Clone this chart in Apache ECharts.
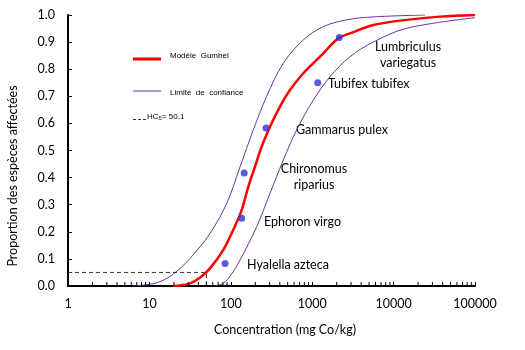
<!DOCTYPE html>
<html><head><meta charset="utf-8">
<script src="https://cdn.jsdelivr.net/npm/echarts@6/dist/echarts.min.js"></script>
<style>html,body{margin:0;padding:0;background:#fff}#c{width:525px;height:350px}</style>
</head><body><div id="c"></div>
<script>
// Species toxicity data (mg Co/kg) and plotting positions
const species = ["Hyalella azteca","Ephoron virgo","Chironomus riparius","Gammarus pulex","Tubifex tubifex","Lumbriculus variegatus"];
const speciesConc = [85, 136, 146, 271, 1169, 2153];
const speciesProp = [0.083, 0.25, 0.417, 0.583, 0.75, 0.917];

// Gumbel model curve
const gumbelX = [19.5, 25.1, 31.6, 41.7, 55.5, 80.9, 107, 136, 164, 198, 239, 303, 402, 533, 778, 1247, 2094, 2911, 5623, 14454, 37154, 100000];
const gumbelY = [0, 0.003, 0.01, 0.03, 0.065, 0.133, 0.207, 0.28, 0.366, 0.44, 0.514, 0.588, 0.662, 0.723, 0.785, 0.846, 0.914, 0.932, 0.963, 0.982, 0.994, 1.0];

// Upper confidence limit (left purple curve)
const upperX = [6.3, 10, 13.5, 19.7, 31.6, 55.5, 89.1, 130, 189, 275, 442, 778, 1368, 2630, 5623, 24300];
const upperY = [0, 0.006, 0.016, 0.044, 0.102, 0.194, 0.305, 0.44, 0.576, 0.699, 0.822, 0.908, 0.957, 0.982, 0.993, 1.0];

// Lower confidence limit (right purple curve)
const lowerX = [63, 80.9, 100, 130, 208, 303, 442, 644, 1033, 1656, 2911, 5623, 14454, 100000];
const lowerY = [0, 0.01, 0.04, 0.096, 0.219, 0.342, 0.465, 0.576, 0.686, 0.772, 0.846, 0.90, 0.951, 0.99];

// HC5
const hc5 = 50.1;
const hc5Prop = 0.05;

// Minor ticks of the log axis
const minorTicks = [];
[1, 10, 100, 1000, 10000].forEach(d => { for (let k = 2; k <= 9; k++) minorTicks.push(d * k); });

const zip = (a, b) => a.map((v, i) => [v, b[i]]);

const chart = echarts.init(document.getElementById('c'), null, {renderer: 'canvas'});
const FONT = 'Lato';
const labelStyle = {fontFamily: FONT, fontSize: 12.5, fill: '#000'};

const speciesLayout = [
  {x: 247, y: 265, align: 'left'},
  {x: 264, y: 222, align: 'left'},
  {x: 314, y: 177, align: 'center', lines: ["Chironomus", "riparius"]},
  {x: 296, y: 130, align: 'left'},
  {x: 328, y: 84, align: 'left'},
  {x: 408, y: 55, align: 'center', lines: ["Lumbriculus", "variegatus"]}
];

const graphics = [];
species.forEach((name, i) => {
  const L = speciesLayout[i];
  graphics.push({type: 'text', x: L.x, y: L.y, style: Object.assign({}, labelStyle, {
    text: L.lines ? L.lines.join('\n') : name, align: L.align, verticalAlign: 'middle', lineHeight: 16
  })});
});
// Axis titles
graphics.push({type: 'text', x: 285, y: 330, style: {text: 'Concentration (mg Co/kg)', fontFamily: FONT, fontSize: 12.5, fill: '#000', align: 'center', verticalAlign: 'middle'}});
graphics.push({type: 'text', x: 13, y: 176, rotation: Math.PI / 2, style: {text: 'Proportion des espèces affectées', fontFamily: FONT, fontSize: 12.5, fill: '#000', align: 'center', verticalAlign: 'middle'}});
// Legend
graphics.push({type: 'line', shape: {x1: 133, y1: 59, x2: 161, y2: 59}, style: {stroke: '#ff0000', lineWidth: 3}});
graphics.push({type: 'text', x: 170, y: 56, style: {text: 'Modèle  Gumbel', fontFamily: 'Liberation Sans', fontSize: 8, fill: '#000', verticalAlign: 'middle'}});
graphics.push({type: 'line', shape: {x1: 133, y1: 91, x2: 161, y2: 91}, style: {stroke: '#7030a0', lineWidth: 1}});
graphics.push({type: 'text', x: 170, y: 93, style: {text: 'Limite  de  confiance', fontFamily: 'Liberation Sans', fontSize: 8, fill: '#000', verticalAlign: 'middle'}});
graphics.push({type: 'line', shape: {x1: 133, y1: 119.5, x2: 147, y2: 119.5}, style: {stroke: '#333', lineWidth: 1, lineDash: [3, 2]}});
graphics.push({type: 'text', x: 147, y: 117, style: {
  text: '{a|HC}{b|5}{a|= ' + hc5 + '}', verticalAlign: 'middle',
  rich: {a: {fontFamily: 'Liberation Sans', fontSize: 8, fill: '#000'}, b: {fontFamily: 'Liberation Sans', fontSize: 6, fill: '#000', padding: [3, 0, 0, 0]}}
}});

chart.setOption({
  animation: false,
  backgroundColor: '#fff',
  grid: {left: 68, right: 50, top: 15, bottom: 64, containLabel: false},
  xAxis: {
    type: 'log', logBase: 10, min: 1, max: 100000,
    axisLine: {onZero: false, lineStyle: {color: '#000', width: 2}},
    axisTick: {inside: true, length: 4, lineStyle: {color: '#000', width: 1}},
    axisLabel: {margin: 11, fontFamily: FONT, fontSize: 12.5, color: '#000',
      formatter: v => String(Math.round(v))},
    splitLine: {show: false}
  },
  yAxis: {
    type: 'value', min: 0, max: 1, interval: 0.1,
    axisLine: {show: true, lineStyle: {color: '#000', width: 2}},
    axisTick: {show: true, inside: true, length: 4, lineStyle: {color: '#000', width: 1}},
    axisLabel: {margin: 13, fontFamily: FONT, fontSize: 12.5, color: '#000', formatter: v => v.toFixed(1)},
    splitLine: {show: false}
  },
  series: [
    {type: 'line', name: 'Limite de confiance', data: zip(upperX, upperY), smooth: 0.35, symbol: 'none',
      lineStyle: {color: '#7030a0', width: 1}, z: 2},
    {type: 'line', name: 'Limite de confiance', data: zip(lowerX, lowerY), smooth: 0.35, symbol: 'none',
      lineStyle: {color: '#7030a0', width: 1}, z: 2},
    {type: 'line', name: 'Modèle Gumbel', data: zip(gumbelX, gumbelY), smooth: 0.35, symbol: 'none',
      lineStyle: {color: '#ff0000', width: 2.5}, z: 3},
    {type: 'line', name: 'HC5', data: [[1, hc5Prop], [hc5, hc5Prop], [hc5, 0]], symbol: 'none',
      lineStyle: {color: '#333', width: 1, type: [4, 3]}, z: 2},
    {type: 'scatter', name: 'Espèces', data: zip(speciesConc, speciesProp), symbol: 'circle', symbolSize: 7,
      itemStyle: {color: '#3333cc'}, z: 4},
    {type: 'custom', name: 'minor', data: minorTicks.map(v => [v, 0]), silent: true, z: 5,
      renderItem: (params, api) => {
        const p = api.coord([api.value(0), 0]);
        return {type: 'line', shape: {x1: p[0], y1: p[1], x2: p[0], y2: p[1] - 4}, style: {stroke: '#000', lineWidth: 1}};
      }}
  ],
  graphic: graphics
});
</script></body></html>
